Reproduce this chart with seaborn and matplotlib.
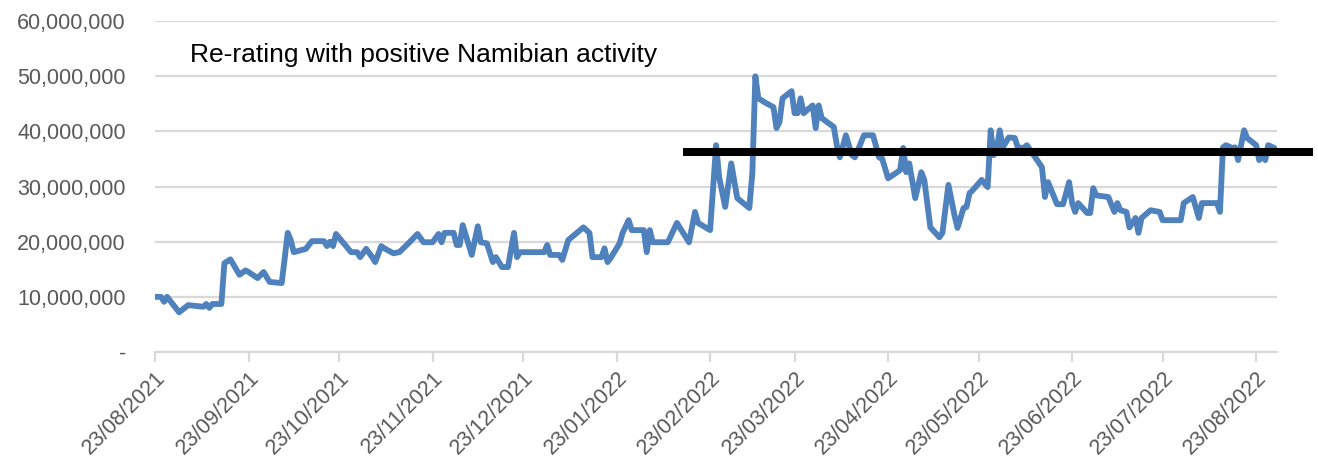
import pandas as pd
import numpy as np
import matplotlib
matplotlib.use('Agg')
import matplotlib.pyplot as plt
import matplotlib.ticker as mticker
import seaborn as sns

# days after 23/08/2021 and share volume (millions)
start_date = '2021-08-23'
day_offset = [0, 2, 3, 4, 8, 11, 16, 17, 18, 19, 22, 23, 25, 28, 30, 31, 34, 36, 38,
              42, 44, 45, 46, 50, 52, 56, 57, 58, 59, 60, 65, 67, 68, 70, 72, 73, 75,
              76, 79, 81, 84, 87, 89, 92, 94, 95, 96, 99, 100, 101, 102, 105, 107, 108,
              110, 112, 113, 115, 117, 119, 120, 121, 129, 130, 131, 134, 135, 137, 142,
              144, 145, 148, 149, 150, 151, 154, 155, 157, 158, 162, 163, 164, 165, 170,
              173, 177, 179, 180, 184, 186, 187, 189, 191, 193, 197, 198, 199, 200, 202,
              205, 206, 207, 208, 211, 212, 213, 214, 215, 216, 218, 219, 220, 221, 222,
              225, 226, 227, 229, 231, 232, 235, 238, 240, 241, 243, 246, 247, 248, 249,
              250, 252, 254, 255, 257, 260, 261, 263, 265, 266, 268, 269, 270, 271, 274,
              276, 277, 278, 279, 280, 281, 283, 285, 286, 288, 289, 292, 294, 295, 296,
              299, 301, 303, 304, 305, 306, 309, 310, 311, 312, 316, 318, 319, 320, 322,
              323, 325, 326, 327, 330, 333, 334, 340, 341, 344, 346, 347, 352, 353, 354,
              355, 357, 358, 359, 361, 362, 365, 366, 367, 368, 369, 371]
volume_m = [10.0, 10.0, 9.1, 10.0, 7.2, 8.5, 8.2, 8.7, 8.0, 8.7, 8.7, 16.1, 16.8, 14.0,
            14.8, 14.5, 13.4, 14.5, 12.7, 12.5, 21.6, 20.3, 18.1, 18.7, 20.1, 20.1, 19.2,
            20.0, 19.2, 21.4, 18.1, 18.1, 17.2, 18.7, 17.2, 16.3, 19.2, 18.8, 17.9, 18.1,
            19.7, 21.4, 19.9, 19.9, 21.4, 19.9, 21.6, 21.6, 19.4, 19.4, 23.0, 17.6, 22.8,
            19.9, 19.7, 16.3, 17.2, 15.4, 15.4, 21.6, 17.2, 18.1, 18.1, 19.4, 17.6, 17.6,
            16.7, 20.3, 22.6, 21.6, 17.2, 17.2, 18.8, 16.3, 17.0, 19.7, 21.6, 23.9, 22.1,
            22.1, 18.1, 22.1, 19.9, 19.9, 23.4, 19.9, 25.4, 23.4, 22.1, 37.5, 31.7, 26.3,
            34.2, 27.9, 26.1, 32.4, 50.0, 46.0, 45.3, 44.4, 40.6, 41.7, 46.0, 47.3, 43.3,
            43.3, 46.0, 43.3, 43.8, 44.7, 40.6, 44.7, 42.4, 42.0, 40.8, 37.5, 35.3, 39.3,
            35.7, 35.3, 39.3, 39.3, 35.3, 35.1, 31.5, 32.6, 33.0, 37.0, 32.6, 34.2, 27.9,
            32.6, 31.2, 22.6, 20.8, 21.6, 30.3, 24.8, 22.5, 26.1, 26.3, 28.8, 29.3, 31.2,
            29.9, 40.2, 35.7, 36.6, 40.2, 37.1, 38.9, 38.8, 37.1, 37.0, 37.5, 35.1, 33.5,
            28.1, 30.8, 26.8, 26.8, 30.8, 27.0, 25.4, 27.0, 25.2, 25.2, 29.7, 28.4, 28.1,
            25.4, 27.0, 25.7, 25.4, 22.6, 24.3, 21.6, 24.3, 25.7, 25.4, 23.9, 23.9, 27.0,
            28.1, 24.3, 27.0, 27.0, 25.4, 37.1, 37.5, 37.0, 37.1, 34.8, 40.2, 38.8, 37.5,
            34.8, 35.7, 34.8, 37.5, 37.0]

# black "re-rating" level line
rerating_level = 36.2e6
rerating_start = '2022-02-14'
rerating_end = '2022-09-11'
note_text = 'Re-rating with positive Namibian activity'

df = pd.DataFrame({'date': pd.to_datetime(start_date) + pd.to_timedelta(day_offset, unit='D'),
                   'volume': np.array(volume_m) * 1e6})

sns.set_style('white')
plt.rcParams['font.family'] = ['Liberation Sans', 'DejaVu Sans']

fig = plt.figure(figsize=(13.18, 4.69), dpi=100)
ax = fig.add_axes([0.1176, 0.2495, 0.8515, 0.7055])

sns.lineplot(data=df, x='date', y='volume', ax=ax, color='#4F81BD', linewidth=4.2)

ax.plot(pd.to_datetime([rerating_start, rerating_end]), [rerating_level, rerating_level],
        color='black', linewidth=5.8, clip_on=False, solid_capstyle='butt')

ax.set_ylim(0, 60e6)
ax.set_xlim(pd.Timestamp(start_date), pd.Timestamp(start_date) + pd.Timedelta(days=372))
ax.yaxis.set_major_locator(mticker.MultipleLocator(10e6))
ax.yaxis.set_major_formatter(mticker.FuncFormatter(lambda v, p: '-' if v == 0 else f'{v:,.0f}'))

ticks = pd.date_range(start_date, '2022-08-23', freq=pd.DateOffset(months=1))
ax.set_xticks(ticks)
ax.set_xticklabels([t.strftime('%d/%m/%Y') for t in ticks], rotation=45, ha='right',
                   rotation_mode='anchor')

ax.grid(axis='y', color='#D9D9D9', linewidth=1.6)
ax.set_axisbelow(True)
for s in ['left', 'right', 'top']:
    ax.spines[s].set_visible(False)
ax.spines['bottom'].set_color('#D9D9D9')
ax.spines['bottom'].set_linewidth(1.6)
ax.tick_params(axis='x', colors='#D9D9D9', length=7, width=1.6, labelcolor='#595959',
               labelsize=15.5, pad=4, bottom=True, direction='out')
ax.tick_params(axis='y', length=0, labelcolor='#595959', labelsize=15.5, pad=21)
ax.set_xlabel('')
ax.set_ylabel('')

ax.text(0.031, 0.876, note_text, transform=ax.transAxes, fontsize=19, color='black')

fig.savefig('out.png', dpi=100)
